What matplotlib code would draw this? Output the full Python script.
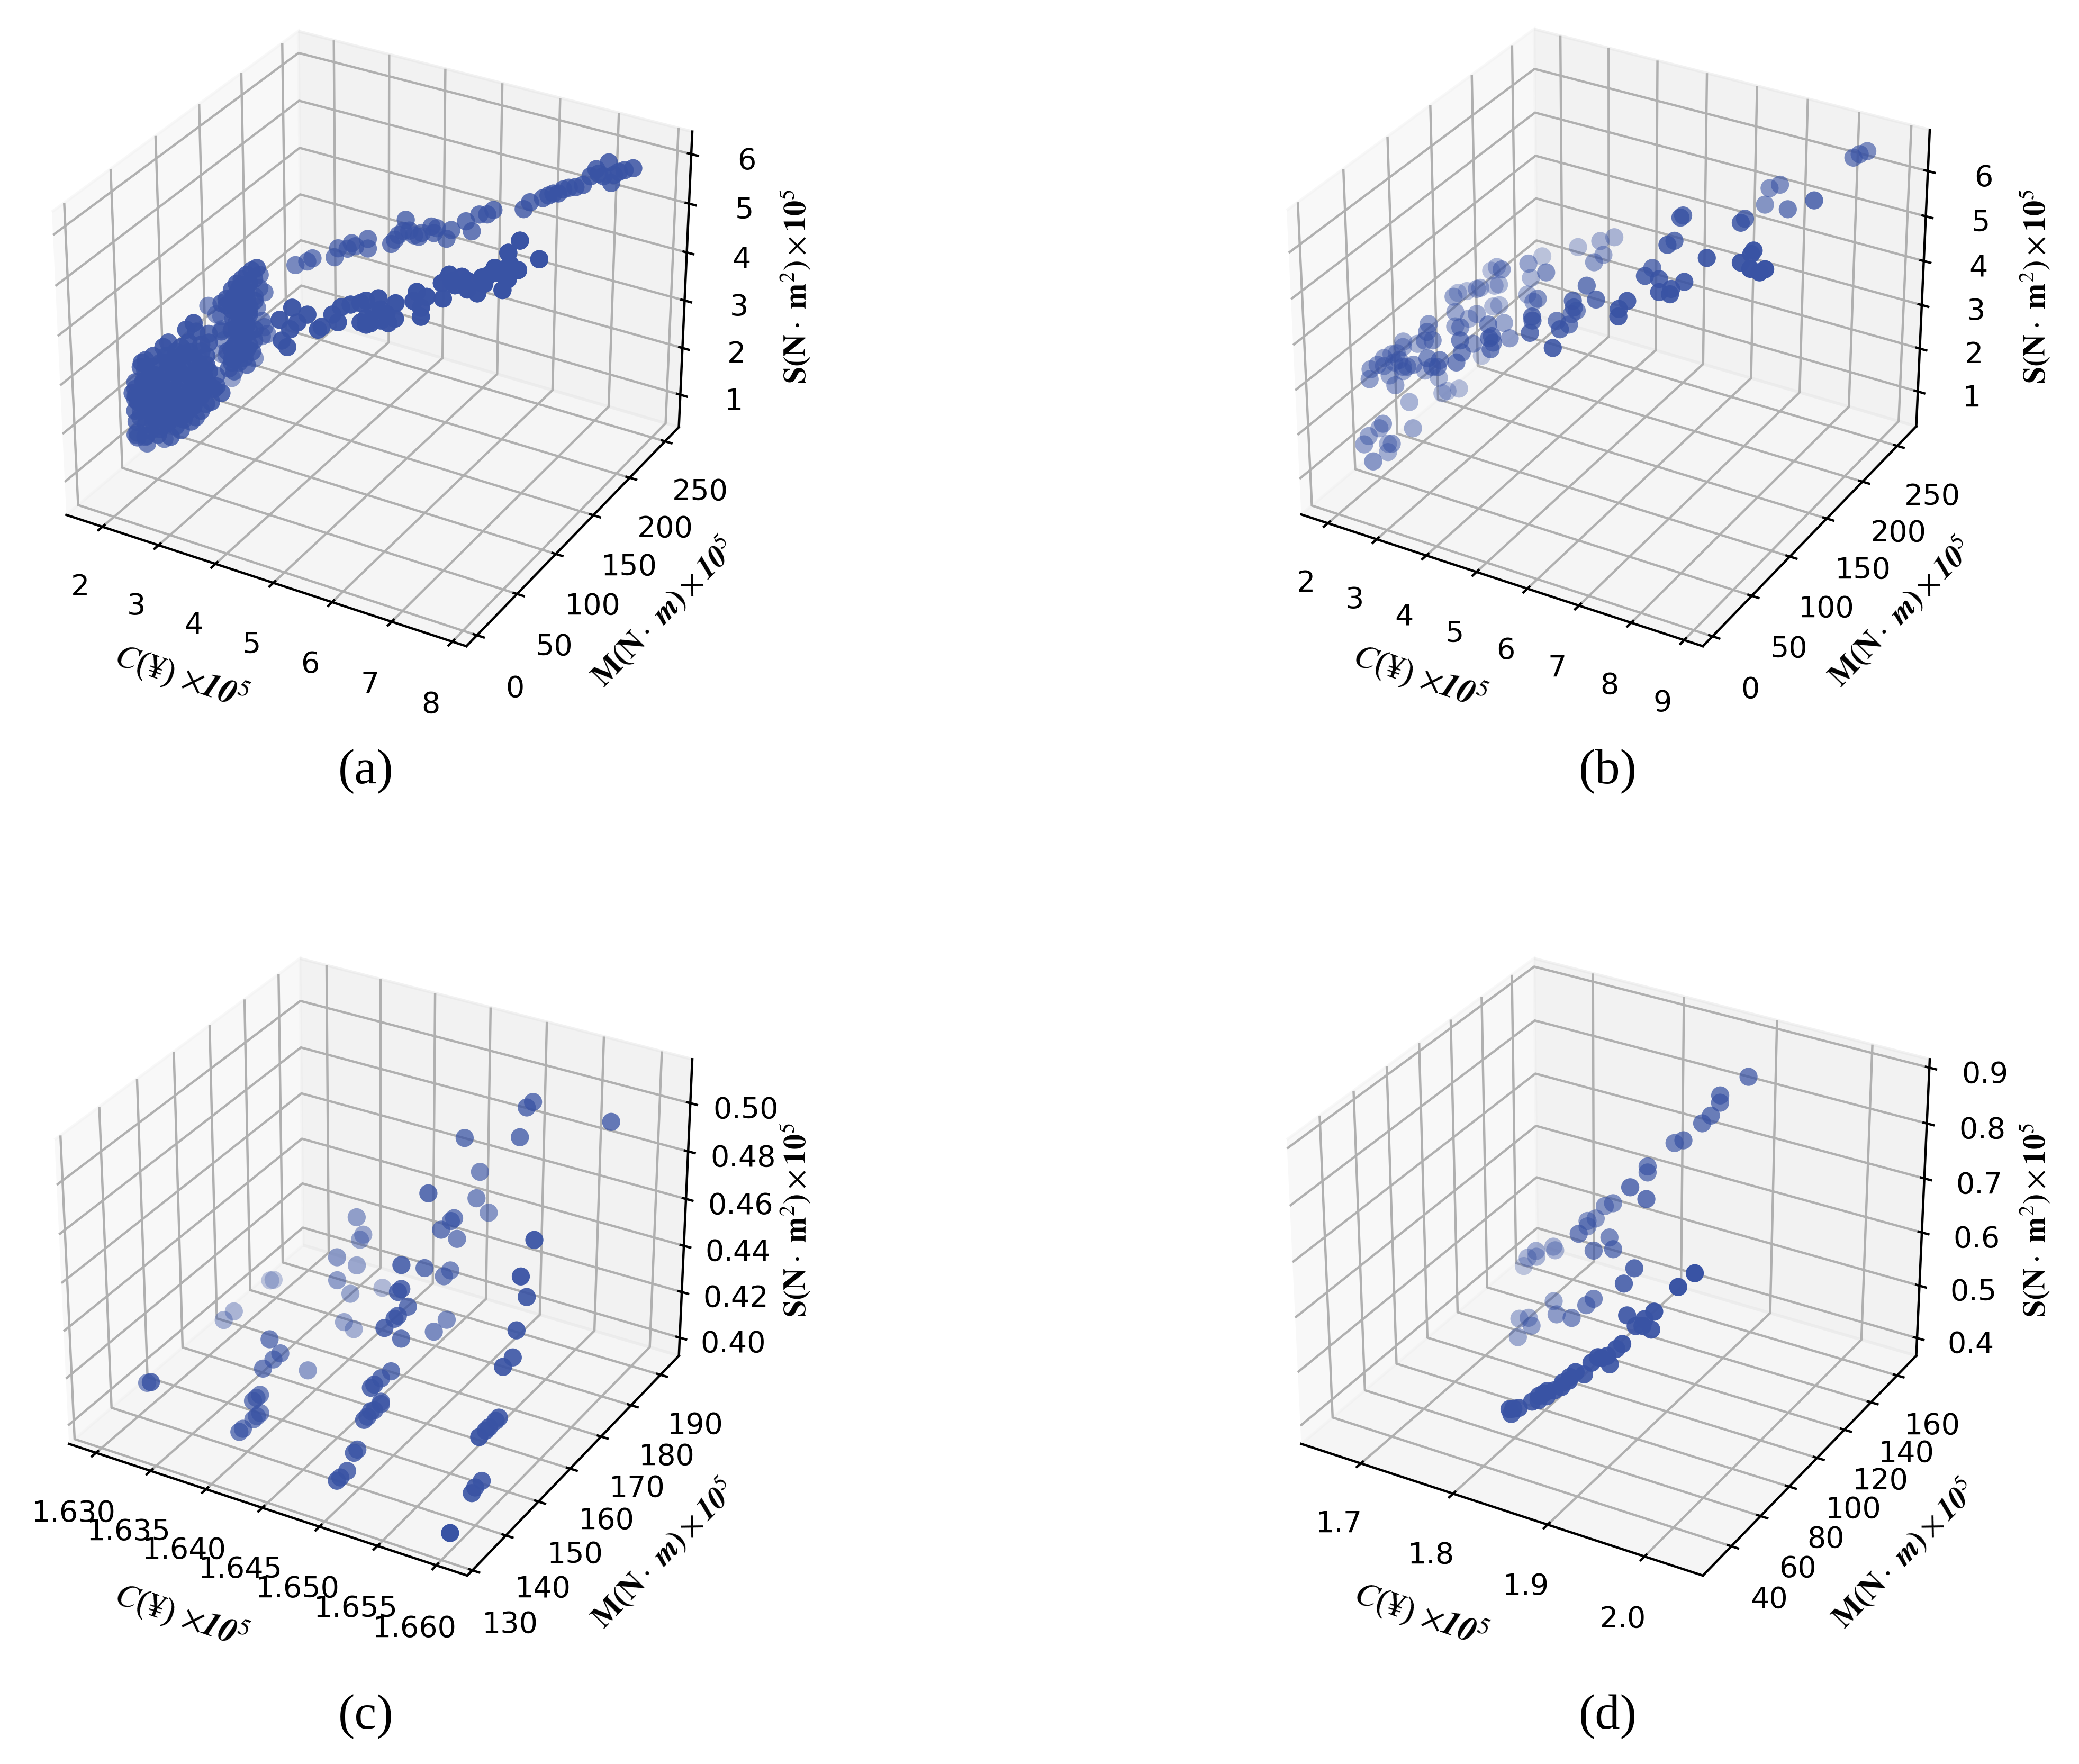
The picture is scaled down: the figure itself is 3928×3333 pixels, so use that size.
"""Four 3D scatter panels of cost, moment and stiffness."""

import matplotlib

matplotlib.use("Agg")
import matplotlib.pyplot as plt
from mpl_toolkits.mplot3d import proj3d

# panel (a)
c_a = [7.45, 7.33, 7.26, 7.11, 6.94, 6.87, 7.05, 7.16, 6.77, 6.67, 6.50, 6.43, 6.29, 6.22, 6.04, 5.96, 5.53, 5.45, 5.34, 5.15, 5.24, 4.95, 4.74, 4.67, 4.70, 4.88, 4.49, 4.42, 4.30, 4.27, 4.20, 4.10, 4.15, 3.77, 3.77, 3.54, 3.48,
       3.34, 3.29, 2.98, 2.90, 2.73, 6.98, 7.19, 6.36, 6.57, 4.35, 4.53, 3.59, 7.70, 7.42, 7.26, 7.29, 7.40, 7.26, 7.19, 7.07, 6.89, 6.93, 6.83, 6.60, 6.42, 6.31, 6.68, 6.50, 6.33, 6.10, 5.95, 6.02, 5.91, 5.65, 5.64, 5.39, 5.21,
       5.13, 5.21, 5.43, 5.32, 4.99, 4.84, 4.72, 4.80, 4.55, 4.50, 4.35, 4.12, 3.93, 4.19, 4.08, 3.96, 4.04, 5.51, 5.43, 5.54, 5.21, 5.28, 5.13, 6.02, 6.46, 6.68, 7.00, 7.11, 3.09, 3.00, 2.91, 2.82, 2.73, 2.95, 2.86, 3.04, 2.68,
       2.54, 2.45, 2.77, 2.95, 2.63, 2.85, 2.71, 2.94, 2.84, 2.71, 2.61, 2.93, 2.79, 3.02, 2.74, 2.88, 2.65, 2.77, 2.63, 2.81, 2.94, 2.76, 2.89, 2.71, 2.80, 3.03, 2.89, 2.70, 2.61, 2.84, 2.98, 2.82, 2.90, 3.04, 2.64, 2.54, 2.86,
       2.46, 1.55, 2.32, 1.66, 2.45, 2.41, 1.74, 1.83, 1.70, 1.66, 2.38, 2.28, 2.50, 1.57, 1.65, 2.37, 2.40, 2.26, 2.73, 2.50, 2.58, 1.98, 2.18, 2.40, 2.80, 2.57, 1.99, 1.75, 1.56, 1.83, 2.40, 2.62, 2.75, 1.54, 1.93, 2.11, 2.29,
       2.47, 2.98, 1.55, 1.68, 1.86, 2.43, 2.60, 2.78, 2.91, 1.68, 1.86, 2.04, 2.22, 2.78, 2.91, 1.52, 1.71, 2.28, 2.45, 2.63, 1.79, 2.36, 2.54, 1.70, 1.53, 2.26, 2.35, 1.60, 1.51, 1.78, 2.43, 2.10, 2.32, 2.89, 1.96, 2.22, 2.40,
       3.06, 1.76, 1.95, 1.51, 2.05, 2.23, 2.38, 2.55, 1.80, 2.24, 2.69, 1.52, 2.09, 2.28, 2.46, 2.63, 1.95, 2.13, 2.31, 2.44, 2.03, 1.74, 1.52, 1.50, 2.22, 2.44, 2.21, 2.57, 2.63, 2.84, 2.92, 1.69, 2.26, 2.56, 1.51, 2.36, 2.59,
       2.48, 1.49, 1.56, 1.52,
       1.62, 1.58, 1.63, 1.60, 1.79, 1.82, 1.77, 1.81, 1.78, 2.02, 1.98, 2.03, 1.99, 2.01, 2.18, 2.22, 2.19, 2.21, 2.23, 2.41, 2.38, 2.42, 2.39, 2.40, 2.58, 2.62, 2.59, 2.61, 2.63, 2.79, 2.82, 2.78,
       2.70, 2.75, 2.80, 2.85, 2.90, 2.95, 2.85, 2.90, 2.95, 3.00, 2.75, 2.80, 2.85, 2.65, 2.60, 2.70]
m_a = [255, 253, 251, 249, 246, 244, 247, 249, 242, 240, 237, 236, 234, 232, 229, 227, 220, 218, 216, 213, 214, 209, 206, 204, 205, 208, 201, 200, 198, 197, 196, 194, 195, 188, 188, 184, 183,
       181, 180, 174, 173, 170, 246, 250, 235, 239, 199, 202, 185, 111, 108, 106, 106, 108, 106, 105, 104, 102, 102, 101, 99, 97, 96, 100, 98, 96, 93, 92, 92, 91, 88, 88, 86, 84,
       83, 84, 86, 85, 81, 80, 78, 79, 77, 76, 74, 72, 70, 73, 72, 70, 71, 87, 86, 87, 84, 84, 83, 92, 97, 100, 103, 104, 100, 100, 100, 100, 100, 100, 100, 100, 100,
       100, 100, 100, 100, 100, 100, 100, 100, 100, 100, 100, 100, 100, 100, 100, 100, 100, 100, 100, 100, 100, 100, 100, 100, 100, 100, 100, 100, 100, 100, 100, 100, 100, 100, 100, 100, 100,
       150, 142, 150, 150, 150, 150, 150, 150, 150, 150, 150, 150, 150, 150, 150, 150, 150, 150, 50, 56, 62, 68, 50, 56, 62, 68, 50, 56, 62, 68, 50, 56, 62, 68, 50, 56, 62,
       68, 50, 56, 62, 68, 50, 56, 62, 68, 50, 56, 62, 68, 50, 56, 62, 68, 50, 56, 62, 68, 50, 56, 62, 68, 50, 56, 62, 55, 50, 56, 62, 68, 50, 56, 62, 68,
       50, 56, 62, 68, 50, 56, 62, 68, 50, 56, 62, 68, 50, 56, 62, 68, 50, 56, 62, 68, 50, 56, 58, 64, 50, 56, 62, 68, 50, 56, 62, 68, 50, 56, 58, 90, 90,
       90, 60, 86, 56,
       52, 54, 50, 53, 52, 50, 54, 52, 51, 53, 50, 52, 54, 51, 52, 50, 53, 54, 51, 52, 54, 50, 53, 51, 52, 50, 54, 53, 51, 52, 50, 53,
       95, 94, 96, 95, 94, 96, 95, 94, 96, 95, 94, 96, 95, 94, 96, 95]
s_a = [5.67, 5.62, 5.59, 5.76, 5.61, 5.47, 5.49, 5.36, 5.29, 5.24, 5.18, 5.09, 5.03, 4.98, 4.88, 4.74, 4.68, 4.59, 4.58, 4.42, 4.23, 4.23, 4.24, 4.28, 4.14, 4.04, 4.05, 4.07, 4.38, 4.15, 4.06, 3.87, 3.96, 3.95, 3.75, 3.84, 3.72,
       3.71, 3.52, 3.48, 3.40, 3.31, 5.53, 5.52, 5.08, 5.21, 4.16, 4.13, 3.78, 5.90, 6.21, 5.95, 5.74, 5.63, 5.43, 5.21, 5.62, 5.40, 5.29, 5.08, 5.36, 5.37, 5.18, 5.12, 5.17, 4.88, 4.88, 4.94, 4.47, 4.76, 4.67, 4.36, 4.71, 4.63,
       4.57, 4.15, 4.28, 4.43, 4.52, 4.43, 4.27, 4.13, 3.98, 3.92, 4.20, 4.29, 4.01, 4.00, 3.84, 3.60, 3.48, 4.42, 4.50, 4.25, 4.28, 4.20, 4.18, 4.65, 5.25, 5.29, 5.48, 5.54, 4.35, 4.27, 4.15, 4.03, 3.91, 3.99, 3.78, 4.11, 3.63,
       3.53, 3.41, 3.57, 3.49, 3.34, 3.23, 3.09, 2.99, 2.87, 2.68, 2.51, 2.71, 2.48, 2.84, 2.28, 2.28, 2.06, 3.75, 3.47, 3.44, 3.35, 3.29, 3.11, 2.91, 3.03, 3.07, 2.61, 2.40, 2.23, 2.41, 2.59, 3.90, 3.66, 3.66, 3.75, 3.40, 3.60,
       2.93, 2.45, 2.56, 2.15, 2.19, 2.31, 1.33, 0.88, 1.65, 1.87, 3.27, 2.78, 2.06, 2.16, 1.34, 2.99, 1.98, 1.46, 3.82, 3.52, 3.42, 2.90, 3.14, 3.13, 3.27, 3.06, 2.89, 2.63, 2.33, 2.43, 2.99, 2.98, 2.98, 2.18, 2.51, 2.48, 2.46,
       2.48, 2.92, 1.96, 1.92, 1.94, 2.41, 2.39, 2.40, 2.18, 1.83, 1.80, 1.82, 1.79, 2.31, 2.18, 1.26, 1.28, 1.81, 1.78, 1.80, 1.08, 1.56, 1.63, 1.04, 0.61, 1.30, 1.38, 0.87, 1.87, 2.68, 2.73, 2.25, 1.96, 2.80, 1.97, 1.75, 1.72,
       2.59, 1.58, 1.65, 1.91, 2.40, 2.66, 2.35, 2.28, 2.00, 2.12, 2.23, 1.35, 1.74, 1.99, 1.97, 1.85, 1.51, 1.53, 1.50, 1.50, 1.26, 2.21, 2.06, 1.36, 2.97, 3.01, 2.88, 2.92, 3.39, 2.92, 2.41, 2.29, 2.85, 2.55, 1.69, 2.89, 3.02,
       2.06, 0.95, 0.44, 0.98,
       1.02, 1.31, 1.62, 1.88, 1.12, 1.41, 1.69, 2.02, 2.28, 1.33, 1.58, 1.92, 2.21, 2.48, 1.52, 1.79, 2.12, 2.39, 2.68, 1.72, 2.01, 2.31, 2.62, 2.88, 2.02, 2.28, 2.61, 2.91, 3.18, 2.31, 2.58, 2.92,
       2.42, 2.71, 3.02, 3.31, 3.62, 3.88, 2.61, 2.92, 3.21, 3.48, 3.28, 3.61, 3.92, 2.21, 2.52, 3.01]

# panel (b)
c_b = [8.55, 8.54, 8.49, 7.31, 7.04, 7.10, 7.89, 8.67, 6.77, 6.87, 7.65, 7.86, 6.76, 6.93, 4.03, 3.90, 4.28, 4.41, 3.28, 7.82, 8.45, 8.61, 8.64, 8.77, 8.94, 8.97, 6.34, 6.66, 6.93, 7.48, 7.31, 7.16, 7.44, 2.53, 3.40, 4.09, 2.95,
       3.19, 2.41, 1.95, 5.38, 5.80, 5.43, 5.45, 6.79, 6.71, 6.78, 5.02, 4.92, 3.04, 4.08, 3.66, 2.45, 2.27, 2.40, 2.50, 1.77, 1.65, 2.36, 2.45, 2.32, 2.39, 2.66, 2.32, 4.96, 5.05, 4.95, 5.27, 5.50, 3.22, 3.75, 3.01, 2.38, 2.36,
       2.68, 4.19, 4.16, 3.67, 5.08, 3.61, 3.09, 4.01, 4.13, 5.85, 2.06, 3.55, 3.61, 1.64, 1.63, 2.61, 2.45, 1.65, 1.66, 1.68, 1.64, 1.67, 1.63, 1.64, 1.62, 2.09, 2.16, 1.80, 2.47, 2.25, 2.94, 3.28, 3.12, 3.14, 1.90, 1.64, 1.89,
       1.99, 2.01, 2.08, 1.92, 1.90, 1.73, 2.07, 1.68, 1.65, 1.66, 2.15, 2.24, 1.61, 1.77, 2.30]
m_b = [250, 240, 235, 220, 225, 215, 190, 169, 130, 120, 150, 130, 120, 100, 220, 210, 190, 170, 220, 90, 90, 95, 90, 80, 80, 85, 120, 90, 90, 85, 80, 75, 70, 220, 150, 130, 180,
       130, 170, 190, 100, 85, 80, 80, 60, 55, 50, 110, 110, 170, 120, 140, 170, 175, 150, 140, 170, 166, 120, 170, 170, 120, 130, 140, 60, 55, 90, 85, 60, 130, 80, 90, 120, 90,
       70, 55, 60, 110, 50, 55, 100, 70, 60, 30, 170, 60, 50, 100, 100, 80, 80, 116, 91, 75, 86, 68, 62, 60, 78, 70, 70, 80, 65, 70, 55, 50, 50, 55, 110, 83, 85,
       70, 120, 140, 135, 130, 100, 50, 67, 56, 50, 80, 50, 80, 71, 25]
s_b = [6.59, 6.66, 6.64, 5.91, 5.68, 5.48, 5.98, 6.71, 6.37, 6.50, 6.28, 6.55, 5.97, 6.23, 3.73, 3.75, 3.85, 4.02, 3.27, 6.38, 6.48, 6.71, 6.72, 6.60, 6.58, 6.58, 5.25, 5.63, 5.65, 5.84, 5.71, 5.67, 5.79, 2.82, 3.97, 4.29, 3.05,
       4.07, 3.28, 2.75, 4.86, 4.92, 4.85, 4.71, 5.59, 5.47, 5.41, 4.04, 3.93, 2.85, 3.85, 3.34, 2.89, 2.73, 3.10, 3.26, 2.52, 2.50, 3.34, 2.41, 2.34, 3.00, 2.89, 2.52, 4.66, 4.68, 4.10, 4.20, 4.56, 2.87, 3.78, 3.32, 2.67, 3.18,
       3.42, 4.01, 3.97, 2.98, 4.50, 3.77, 2.82, 3.62, 3.67, 4.74, 1.10, 3.40, 3.36, 2.39, 2.26, 3.05, 2.99, 2.09, 2.27, 2.42, 2.32, 2.37, 2.35, 2.16, 2.17, 2.59, 2.46, 2.28, 2.69, 2.49, 3.15, 3.30, 3.10, 3.02, 1.65, 1.88, 2.03,
       1.98, 1.36, 0.81, 0.78, 0.80, 1.02, 1.45, 0.93, 0.92, 0.83, 0.88, 1.05, 0.33, 0.34, 1.08]

# panel (c)
c_c = [1.659, 1.658, 1.658, 1.658, 1.658, 1.658, 1.658, 1.658, 1.658, 1.658, 1.658, 1.658, 1.658, 1.658, 1.658, 1.658,
       1.648, 1.648, 1.648, 1.648, 1.648, 1.648, 1.648, 1.648, 1.648, 1.648, 1.648, 1.648, 1.648, 1.648, 1.648, 1.648, 1.648, 1.648, 1.648, 1.648, 1.648,
       1.648, 1.648, 1.648, 1.648, 1.648, 1.648, 1.648, 1.648, 1.648, 1.648, 1.648, 1.648, 1.648, 1.648, 1.648, 1.648,
       1.652, 1.652, 1.652,
       1.638, 1.638, 1.638, 1.638, 1.638, 1.638, 1.638, 1.638, 1.638, 1.638, 1.638, 1.638, 1.638, 1.638, 1.638, 1.638, 1.638, 1.638, 1.638, 1.638, 1.638, 1.638, 1.638,
       1.6285, 1.6285, 1.6285, 1.6285, 1.6285, 1.6285, 1.6285]
m_c = [136, 146, 147, 149, 148, 150, 151, 153, 154, 155, 158, 159, 162, 160, 164, 188, 140, 141, 143, 145, 146, 148, 149, 150, 151, 153, 153, 150, 151, 153, 156, 159, 154, 157, 158, 161, 158,
       159, 159, 169, 173, 166, 172, 174, 176, 175, 171, 174, 167, 182, 186, 183, 178, 181, 183, 185, 144, 145, 148, 149, 150, 148, 149, 150, 151, 154, 156, 153, 164, 178, 175, 177, 173, 179,
       173, 187, 179, 181, 180, 147, 148, 148, 169, 172, 183, 184]
s_c = [0.393, 0.394, 0.395, 0.395, 0.415, 0.415, 0.415, 0.415, 0.415, 0.435, 0.435, 0.445, 0.455, 0.466, 0.476, 0.496, 0.392, 0.392, 0.392, 0.397, 0.397, 0.407, 0.407, 0.408, 0.407, 0.407, 0.408, 0.418, 0.418, 0.418, 0.417, 0.427, 0.438, 0.438, 0.438, 0.438, 0.448,
       0.448, 0.458, 0.417, 0.417, 0.448, 0.437, 0.437, 0.448, 0.458, 0.458, 0.458, 0.478, 0.458, 0.447, 0.468, 0.488, 0.490, 0.500, 0.500, 0.392, 0.392, 0.392, 0.392, 0.392, 0.400, 0.400, 0.400, 0.410, 0.410, 0.410, 0.420, 0.392, 0.392, 0.399, 0.409, 0.420, 0.419,
       0.430, 0.399, 0.440, 0.430, 0.429, 0.395, 0.394, 0.394, 0.394, 0.394, 0.394, 0.393]

# panel (d)
c_d = [1.848, 1.852, 1.856, 1.843, 1.860, 1.860, 1.869, 1.874, 1.876, 1.872, 1.880, 1.884, 1.889, 1.892, 1.893, 1.899, 1.898, 1.909, 1.914, 1.916, 1.922, 1.915, 1.925, 1.931, 1.917, 1.929, 1.936, 1.938, 1.945, 1.951, 1.969, 1.981, 1.916, 1.900, 1.900, 1.898, 1.889,
       1.877, 1.860, 1.847, 1.847, 1.860, 1.877, 1.810, 1.793, 1.783, 1.774, 1.774, 1.805, 1.822, 1.842, 1.821, 1.896, 1.893, 1.711, 1.713, 1.708, 1.700, 1.690, 1.660, 1.829, 1.821, 1.744, 1.772, 1.805, 1.724, 1.705, 1.744, 1.720]
m_d = [29, 29, 30, 33, 36, 40, 35, 35, 36, 38, 38, 40, 38, 40, 40, 40, 46, 44, 45, 46, 46, 52, 50, 50, 62, 60, 60, 60, 60, 58, 62, 65, 144, 135, 135, 130, 130,
       125, 130, 120, 120, 100, 100, 120, 125, 125, 125, 125, 100, 110, 100, 100, 80, 75, 140, 140, 130, 135, 135, 150, 95, 95, 120, 105, 95, 115, 120, 105, 110]
s_d = [0.527, 0.530, 0.531, 0.505, 0.529, 0.521, 0.547, 0.554, 0.557, 0.540, 0.555, 0.558, 0.574, 0.574, 0.581, 0.593, 0.573, 0.605, 0.615, 0.612, 0.619, 0.585, 0.623, 0.635, 0.649, 0.641, 0.645, 0.658, 0.643, 0.683, 0.726, 0.749, 0.886, 0.865, 0.852, 0.839, 0.821,
       0.796, 0.772, 0.746, 0.735, 0.760, 0.747, 0.661, 0.636, 0.608, 0.599, 0.589, 0.649, 0.627, 0.639, 0.626, 0.679, 0.662, 0.484, 0.478, 0.498, 0.471, 0.464, 0.397, 0.553, 0.537, 0.444, 0.470, 0.505, 0.414, 0.390, 0.434, 0.387]

WIDTH, HEIGHT = 3928, 3333
POINT_COLOR = "#3953A4"
SERIF = "Liberation Serif"
X_LABEL = r"$\mathit{C}$(¥) $\times\mathbfit{10}^{5}$"
Y_LABEL = r"$\mathbf{M(N}\cdot\ \mathbfit{m}\mathbf{)}\times\mathbfit{10}^{5}$"
Z_LABEL = r"$\mathbf{S(N}\cdot\ \mathbf{m}^{2}\mathbf{)}\times\mathbf{10}^{5}$"

PANELS = [
    dict(name="(a)", data=(c_a, m_a, s_a), box=(98, 1308, 59, 1221), caption=(691, 1458), layers=2,
         lims=((1.35, 8.23), (-13, 270), (0.3, 6.45)),
         ticks=(list(range(2, 9)), list(range(0, 251, 50)), list(range(1, 7))),
         xfmt="%d", zfmt="%d", xlab=(343, 1278), ylab=(1253, 1157), zlab=(1503, 541)),
    dict(name="(b)", data=(c_b, m_b, s_b), box=(2431, 3646, 55, 1221), caption=(3038, 1458), layers=1,
         lims=((1.45, 9.35), (-12, 278), (0.18, 6.9)),
         ticks=(list(range(2, 10)), list(range(0, 251, 50)), list(range(1, 7))),
         xfmt="%d", zfmt="%d", xlab=(2683, 1278), ylab=(3590, 1157), zlab=(3845, 541)),
    dict(name="(c)", data=(c_c, m_c, s_c), box=(103, 1308, 1811, 2977), caption=(691, 3244), layers=1,
         lims=((1.6275, 1.6626), (128.5, 196.4), (0.392, 0.518)),
         ticks=([1.63, 1.635, 1.64, 1.645, 1.65, 1.655, 1.66], list(range(130, 191, 10)), [0.4, 0.42, 0.44, 0.46, 0.48, 0.5]),
         xfmt="%.3f", zfmt="%.2f", xlab=(343, 3052), ylab=(1253, 2936), zlab=(1503, 2305)),
    dict(name="(d)", data=(c_d, m_d, s_d), box=(2431, 3646, 1811, 2977), caption=(3038, 3244), layers=1,
         lims=((1.634, 2.059), (21, 175), (0.366, 0.915)),
         ticks=([1.7, 1.8, 1.9, 2.0], list(range(40, 161, 20)), [0.4, 0.5, 0.6, 0.7, 0.8, 0.9]),
         xfmt="%.1f", zfmt="%.1f", xlab=(2685, 3050), ylab=(3597, 2936), zlab=(3845, 2305)),
]


def place_cube(ax, box):
    """Move the axes so the drawn cube fills box (left, right, top, bottom in pixels)."""
    left, right, top, bottom = box
    ax.set_position([0, 0, 1, 1])
    proj = ax.get_proj()
    xs, ys = [], []
    for x in ax.get_xlim():
        for y in ax.get_ylim():
            for z in ax.get_zlim():
                vx, vy, _ = proj3d.proj_transform(x, y, z, proj)
                px, py = ax.transData.transform((vx, vy))
                xs.append(px / WIDTH)
                ys.append(py / HEIGHT)
    w = (right - left) / WIDTH / (max(xs) - min(xs))
    h = (bottom - top) / HEIGHT / (max(ys) - min(ys))
    ax.set_position([left / WIDTH - min(xs) * w, (HEIGHT - bottom) / HEIGHT - min(ys) * h, w, h])


def pixel_text(px, py, text, **kwargs):
    fig.text(px / WIDTH, 1 - py / HEIGHT, text, ha="center", va="center", family=SERIF, **kwargs)


plt.rcParams["mathtext.fontset"] = "stix"
fig = plt.figure(figsize=(WIDTH / 400, HEIGHT / 400), dpi=400)

for panel in PANELS:
    ax = fig.add_subplot(projection="3d")
    ax.apply_aspect = lambda position=None: None
    c_vals, m_vals, s_vals = panel["data"]
    # panel (a) is so dense that the source image reads darker, one layer is too pale
    for _ in range(panel["layers"]):
        ax.scatter(c_vals, m_vals, s_vals, s=38, color=POINT_COLOR, linewidths=0)
    xticks, yticks, zticks = panel["ticks"]
    ax.set_xticks(xticks, labels=[panel["xfmt"] % v for v in xticks])
    ax.set_yticks(yticks)
    ax.set_zticks(zticks, labels=[panel["zfmt"] % v for v in zticks])
    ax.set_xlim(*panel["lims"][0])
    ax.set_ylim(*panel["lims"][1])
    ax.set_zlim(*panel["lims"][2])
    place_cube(ax, panel["box"])
    pixel_text(*panel["xlab"], X_LABEL, fontsize=11.5, rotation=-19)
    pixel_text(*panel["ylab"], Y_LABEL, fontsize=10.5, rotation=46)
    pixel_text(*panel["zlab"], Z_LABEL, fontsize=10.5, rotation=90)
    pixel_text(*panel["caption"], panel["name"], fontsize=17)

fig.savefig("out.png", dpi=400)
plt.close(fig)
